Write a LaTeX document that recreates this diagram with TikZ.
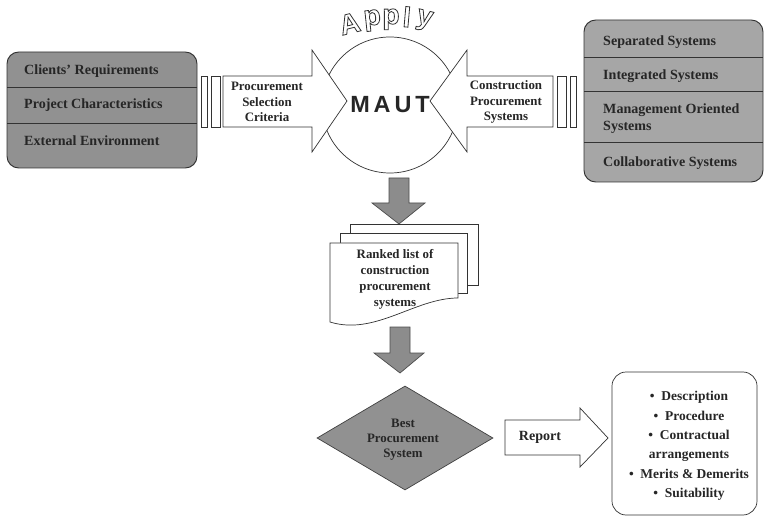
\documentclass[tikz,border=0pt]{standalone}
\usepackage{fontspec}
\setmainfont{Liberation Serif}
\newfontfamily\headfont{Liberation Sans}
\usetikzlibrary{shapes.geometric}
\definecolor{darkbox}{gray}{0.57}
\definecolor{lightbox}{gray}{0.65}
\definecolor{arrowfill}{gray}{0.55}
\newcommand{\hollow}[1]{\special{pdf:literal 1 Tr 0.7 w}#1\special{pdf:literal 0 Tr}}
\tikzset{
  boxtext/.style={font=\fontsize{12}{14.5}\selectfont\bfseries,text=black!85,anchor=west,align=left,inner sep=0pt},
  arrtext/.style={font=\fontsize{11}{13}\selectfont\bfseries,text=black!85,align=center,inner sep=0pt},
  blockarrow/.style={draw=black!80,line width=0.6pt,fill=white},
  downarrow/.style={draw=black!70,line width=0.6pt,fill=arrowfill},
  page/.style={draw=black!80,line width=0.6pt,fill=white}
}
\begin{document}
\begin{tikzpicture}[x=0.03cm,y=-0.03cm]
\useasboundingbox (0,0) rectangle (766,517);
\draw[fill=darkbox,draw=black!80,line width=0.8pt,rounded corners=10pt] (7,52) rectangle (197,168);
\draw[black!80,line width=0.8pt] (7,87) -- (197,87);
\draw[black!80,line width=0.8pt] (7,123) -- (197,123);
\node[boxtext] (clients) at (24,71) {Clients' Requirements};
\node[boxtext] (project) at (24,105) {Project Characteristics};
\node[boxtext] (external) at (24,141) {External Environment};

\draw[fill=lightbox,draw=black!80,line width=0.8pt,rounded corners=10pt] (584,20) rectangle (763,182);
\draw[black!80,line width=0.8pt] (584,57) -- (763,57);
\draw[black!80,line width=0.8pt] (584,91) -- (763,91);
\draw[black!80,line width=0.8pt] (584,142) -- (763,142);
\node[boxtext] (separated) at (603,42) {Separated Systems};
\node[boxtext] (integrated) at (603,76) {Integrated Systems};
\node[boxtext] (management) at (603,118.5) {Management Oriented\\Systems};
\node[boxtext] (collab) at (603,163) {Collaborative Systems};

\node[circle,draw=black!80,line width=0.6pt,minimum size=4.08cm,inner sep=0pt,
  font=\headfont\bfseries\fontsize{20}{20}\selectfont,text=black!85] (maut) at (390,105) {M\,A\,U\,T};

\draw[blockarrow] (201,76) rectangle (207,127);
\draw[blockarrow] (211,76) rectangle (220,127);
\draw[blockarrow] (223,76) -- (312,76) -- (312,50) -- (347,101) -- (312,152) -- (312,127) -- (223,127) -- cycle;
\node[arrtext] (criteria) at (267,102) {Procurement\\Selection\\Criteria};

\draw[blockarrow] (576,76) rectangle (570,127);
\draw[blockarrow] (566,76) rectangle (557,127);
\draw[blockarrow] (553,76) -- (467,76) -- (467,50) -- (430,101) -- (467,152) -- (467,127) -- (553,127) -- cycle;
\node[arrtext] (systems) at (506,102) {Construction\\Procurement\\Systems};

\foreach \ch/\x/\y/\r in {A/352/33/14,p/373/25/6,p/391/24/0,l/406/27/-5,y/423/25/-14}
  \node[font=\headfont\bfseries\fontsize{24}{24}\selectfont,text=black!80,rotate=\r,anchor=base,inner sep=0pt] at (\x,\y) {\hollow{\ch}};

\draw[downarrow] (389,178) -- (409,178) -- (409,203) -- (425,203) -- (399,224) -- (372,203) -- (389,203) -- cycle;

\draw[page] (350,224) rectangle (478,285);
\draw[page] (340,233) rectangle (467,293);
\draw[page] (330,243) -- (458,243) -- (458,298) .. controls (415,298) and (375,336) .. (330,322) -- cycle;
\node[arrtext,font=\fontsize{11}{13.6}\selectfont\bfseries] (ranked) at (395,279) {Ranked list of\\construction\\procurement\\systems};

\draw[downarrow] (390,327) -- (410,327) -- (410,353) -- (424,353) -- (400,373) -- (374,353) -- (390,353) -- cycle;

\node[diamond,draw=black!75,line width=0.6pt,fill=darkbox,minimum width=5.28cm,minimum height=3.12cm,inner sep=0pt] (best) at (405,438) {};
\node[arrtext,font=\fontsize{11}{12.8}\selectfont\bfseries] (besttext) at (403,440) {Best\\Procurement\\System};

\draw[blockarrow] (505,420) -- (580,420) -- (580,408) -- (608,438) -- (580,467) -- (580,455) -- (505,455) -- cycle;
\node[arrtext,font=\fontsize{12}{14}\selectfont\bfseries] (report) at (540,437) {Report};

\node[draw=black!80,line width=0.6pt,rounded corners=12pt,minimum width=4.35cm,minimum height=4.29cm] (reportbox) at (684.5,443.5) {};
\node[arrtext,font=\fontsize{11.5}{16.6}\selectfont\bfseries] (contents) at (689,446) {\textbullet\enspace Description\\\textbullet\enspace Procedure\\\textbullet\enspace Contractual\\arrangements\\\textbullet\enspace Merits \& Demerits\\\textbullet\enspace Suitability};
\end{tikzpicture}
\end{document}
